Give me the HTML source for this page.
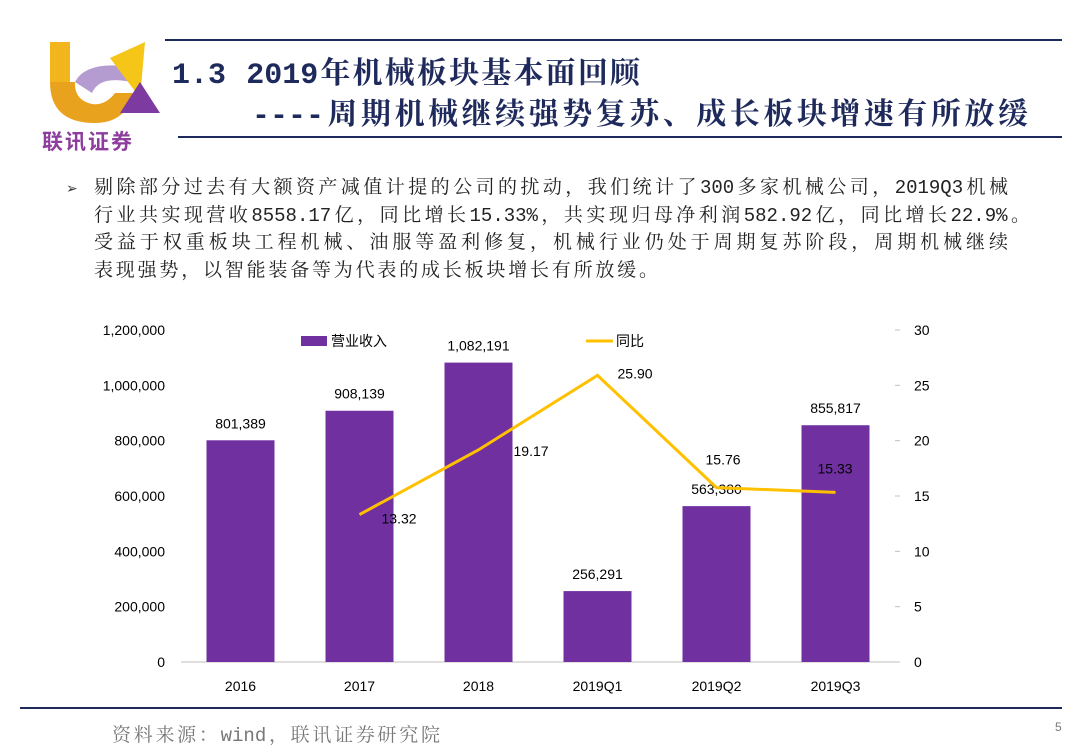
<!DOCTYPE html>
<html><head><meta charset="utf-8"><style>
body{margin:0;width:1083px;height:750px;background:#fff;overflow:hidden;position:relative;font-family:"Liberation Sans","Noto Sans CJK SC",sans-serif}
.t{position:absolute;white-space:nowrap}
.j{position:absolute;white-space:nowrap;text-align:justify;text-align-last:justify;text-justify:inter-character}
</style></head><body>
<div style="position:absolute;left:40px;top:38px;width:130px;height:115px">
<svg width="130" height="115">
<rect x="10" y="4" width="20" height="40" fill="#f2b51c"/>
<path d="M10 44 Q10 85 55 85 Q85 85 95 55 L75 55 Q65 68 52 66 Q34 62 35 44 Z" fill="#e9a21e"/>
<path d="M35 44 Q45 24 85 28 L95 45 Q60 36 52 55 Z" fill="#b49bd0"/>
<path d="M70 20 L105 4 L100 60 Z" fill="#f5c518"/>
<path d="M100 44 L120 75 L80 75 Z" fill="#7d3aa0"/>
</svg>
<div class="t" style="left:2px;top:88px;font-size:21px;color:#8e3c9e;font-weight:bold;letter-spacing:2px">联讯证券</div>
</div>
<div style="position:absolute;left:165px;top:39px;width:897px;height:2px;background:#1f2a5c"></div>
<div style="position:absolute;left:178px;top:136px;width:884px;height:2px;background:#1f2a5c"></div>
<div class="j" style="left:172px;top:48px;width:468px;font-size:30px;font-weight:bold;color:#1f2a5c;font-family:'Liberation Mono','Noto Serif CJK SC',monospace">1.3 2019年机械板块基本面回顾</div>
<div class="j" style="left:252px;top:89px;width:776px;font-size:30px;font-weight:bold;color:#1f2a5c;font-family:'Liberation Mono','Noto Serif CJK SC',monospace">----周期机械继续强势复苏、成长板块增速有所放缓</div>
<div class="t" style="left:66px;top:180px;font-size:14px;color:#333">➢</div>
<div style="position:absolute;left:94px;top:175px;font-size:19px;line-height:27.5px;color:#222;font-family:'Liberation Mono','Noto Serif CJK SC',serif">
<div class="j" style="left:0;top:0;width:914px">剔除部分过去有大额资产减值计提的公司的扰动，我们统计了300多家机械公司，2019Q3机械</div>
<div class="j" style="left:0;top:27.5px;width:936px">行业共实现营收8558.17亿，同比增长15.33%，共实现归母净利润582.92亿，同比增长22.9%。</div>
<div class="j" style="left:0;top:55px;width:914px">受益于权重板块工程机械、油服等盈利修复，机械行业仍处于周期复苏阶段，周期机械继续</div>
<div class="j" style="left:0;top:82.5px;width:564px">表现强势，以智能装备等为代表的成长板块增长有所放缓。</div>
</div>
<svg id="chart" width="1083" height="750" style="position:absolute;left:0;top:0"></svg>
<div style="position:absolute;left:20px;top:707px;width:1042px;height:2px;background:#1f2a5c"></div>
<div class="j" style="left:112px;top:720px;width:328px;font-size:19px;color:#777;font-family:'Liberation Mono','Noto Serif CJK SC',serif">资料来源：wind，联讯证券研究院</div>
<div class="t" style="left:1055px;top:720px;font-size:12px;color:#777">5</div>
<script>
const categories=["2016","2017","2018","2019Q1","2019Q2","2019Q3"];
const revenue=[801389,908139,1082191,256291,563380,855817];
const yoy=[null,13.32,19.17,25.90,15.76,15.33];
const leftTicks=[0,200000,400000,600000,800000,1000000,1200000];
const rightTicks=[0,5,10,15,20,25,30];
const ns="http://www.w3.org/2000/svg";
const svg=document.getElementById("chart");
const x0=181,step=119,y0=662,h=332;
const yL=v=>y0-v/1200000*h, yR=v=>y0-v/30*h, xc=i=>x0+step*(i+0.5);
const fmt=v=>v.toLocaleString("en-US");
function mk(tag,attrs,txt){const e=document.createElementNS(ns,tag);for(const k in attrs)e.setAttribute(k,attrs[k]);if(txt!=null)e.textContent=txt;svg.appendChild(e);return e;}
const F='font-family:"Liberation Sans","Noto Sans CJK SC",sans-serif;font-size:14px;fill:#000';
let e=mk("line",{x1:x0,y1:y0,x2:x0+step*6,y2:y0,stroke:"#bfbfbf"});


leftTicks.forEach(v=>{const t=mk("text",{x:165,y:yL(v)+5,"text-anchor":"end",style:F},fmt(v));

});
rightTicks.forEach(v=>{const t=mk("text",{x:914,y:yR(v)+5,style:F},v);


const m=mk("line",{x1:x0+step*6,y1:yR(v),x2:x0+step*6+5,y2:yR(v),stroke:"#bfbfbf"});

});
categories.forEach((c,i)=>{const t=mk("text",{x:xc(i),y:691,"text-anchor":"middle",style:F},c);


const b=mk("rect",{x:xc(i)-34,y:yL(revenue[i]),width:68,height:y0-yL(revenue[i]),fill:"#7030a0"});


const l=mk("text",{x:xc(i),y:yL(revenue[i])-12,"text-anchor":"middle",style:F},fmt(revenue[i]));

});
const pts=yoy.map((v,i)=>v==null?null:[xc(i),yR(v)]).filter(p=>p);
const pl=mk("polyline",{points:pts.map(p=>p.join(",")).join(" "),fill:"none",stroke:"#ffc000","stroke-width":3});


const off=[null,[22,4],[35,1],[20,-2],[-11,-28],[-18,-24]];
yoy.forEach((v,i)=>{if(v==null)return;const t=mk("text",{x:xc(i)+off[i][0],y:yR(v)+off[i][1]+5,style:F},v.toFixed(2));

});
e=mk("rect",{x:301,y:336,width:26,height:10,fill:"#7030a0"});


e=mk("text",{x:331,y:346,style:F},"营业收入");


e=mk("line",{x1:586,y1:341,x2:613,y2:341,stroke:"#ffc000","stroke-width":3});


e=mk("text",{x:616,y:346,style:F},"同比");


</script>
</body></html>
